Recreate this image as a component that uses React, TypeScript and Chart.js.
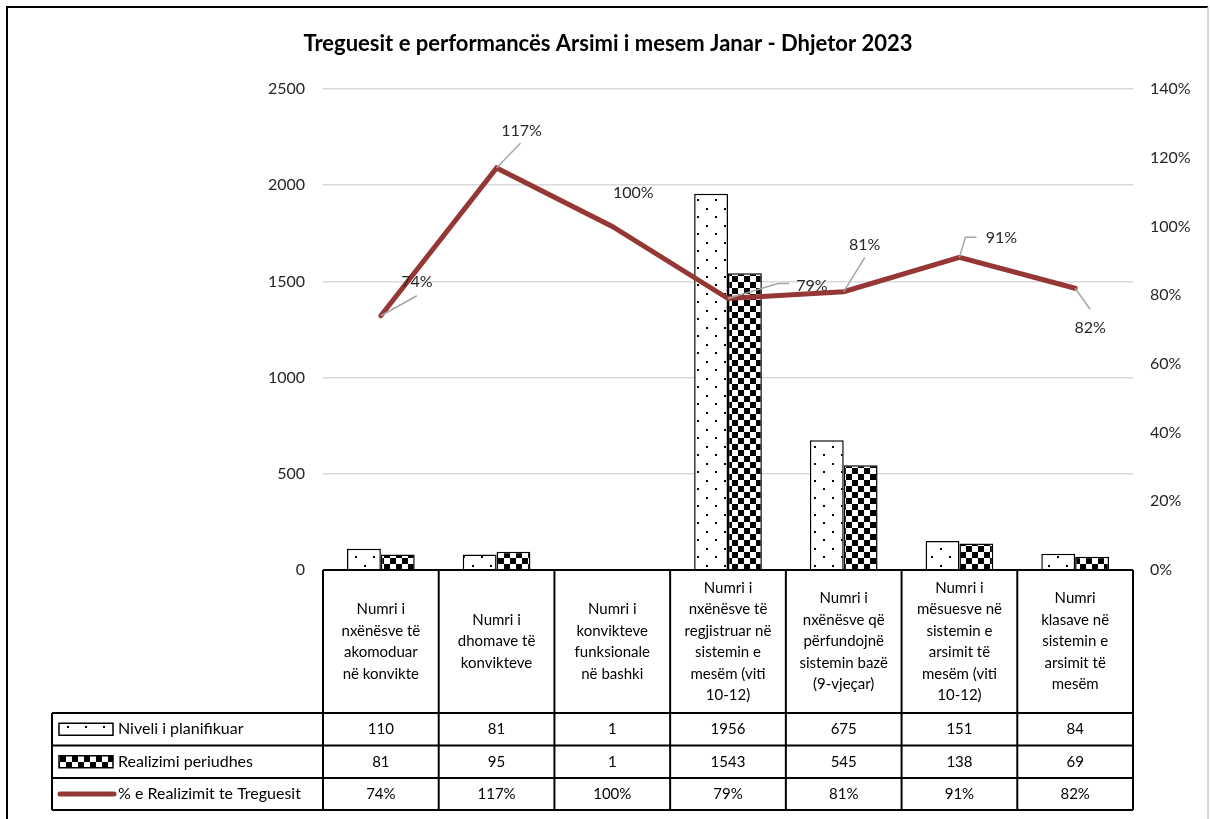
import React, { useEffect, useRef } from "react";
import { Chart, registerables } from "chart.js";

Chart.register(...registerables);

// ---------- DATA ----------
const chartTitle = "Treguesit e performancës Arsimi i mesem Janar - Dhjetor 2023";
const categories: string[][] = [
  ["Numri i", "nxënësve të", "akomoduar", "në konvikte"],
  ["Numri i", "dhomave të", "konvikteve"],
  ["Numri i", "konvikteve", "funksionale", "në bashki"],
  ["Numri i", "nxënësve të", "regjistruar në", "sistemin e", "mesëm (viti", "10-12)"],
  ["Numri i", "nxënësve që", "përfundojnë", "sistemin bazë", "(9-vjeçar)"],
  ["Numri i", "mësuesve në", "sistemin e", "arsimit të", "mesëm (viti", "10-12)"],
  ["Numri", "klasave në", "sistemin e", "arsimit të", "mesëm"],
];
const plannedName = "Niveli i planifikuar";
const realizedName = "Realizimi periudhes";
const pctName = "% e Realizimit te Treguesit";
const planned = [110, 81, 1, 1956, 675, 151, 84];
const realized = [81, 95, 1, 1543, 545, 138, 69];
const pctValues = [0.74, 1.17, 1.0, 0.79, 0.81, 0.91, 0.82];
const leftTicksMax = 2500;
const leftTicksStep = 500;
const rightTicksMax = 1.4;
const rightTicksStep = 0.2;

// ---------- STYLE ----------
const FONT = "Lato, 'Noto Sans', sans-serif";
const LINE_COLOR = "#953735";
const GRID_COLOR = "#d9d9d9";
const LEADER_COLOR = "#a6a6a6";
// label text centre offsets from point (dx, dy) and leader line paths
const labelOffsets = [
  [36, -34], [25, -37], [21, -34], [84, -13], [21, -47], [42, -20], [15, 40],
];
const leaderPaths: (number[][] | null)[] = [
  [[0, 0], [36, -20]],
  [[0, 0], [24, -25]],
  null,
  [[0, 0], [50, -15], [61, -15]],
  [[0, 0], [21, -34]],
  [[0, 0], [6, -20], [17, -20]],
  [[0, 0], [15, 21]],
];
const TABLE_LEFT = 52;
const HEADER_BOTTOM = 713;
const ROW_LINES = [713, 745.5, 778, 810];

function pctText(v: number) {
  return Math.round(v * 100) + "%";
}

function makeDotPattern(ctx: CanvasRenderingContext2D) {
  const c = document.createElement("canvas");
  c.width = 18;
  c.height = 17;
  const g = c.getContext("2d")!;
  g.fillStyle = "#ffffff";
  g.fillRect(0, 0, 18, 17);
  g.fillStyle = "#000000";
  g.fillRect(4, 4, 2, 2);
  g.fillRect(13, 12, 2, 2);
  return ctx.createPattern(c, "repeat")!;
}

function makeCheckerPattern(ctx: CanvasRenderingContext2D) {
  const c = document.createElement("canvas");
  c.width = 12;
  c.height = 12;
  const g = c.getContext("2d")!;
  g.fillStyle = "#ffffff";
  g.fillRect(0, 0, 12, 12);
  g.fillStyle = "#000000";
  g.fillRect(0, 0, 6, 6);
  g.fillRect(6, 6, 6, 6);
  return ctx.createPattern(c, "repeat")!;
}

export default function App() {
  const ref = useRef<HTMLCanvasElement | null>(null);

  useEffect(() => {
    const canvas = ref.current!;
    const ctx0 = canvas.getContext("2d")!;
    const dotPat = makeDotPattern(ctx0);
    const checkPat = makeCheckerPattern(ctx0);

    const overlay = {
      id: "overlay",
      afterDatasetsDraw(chart: any) {
        const ctx: CanvasRenderingContext2D = chart.ctx;
        const area = chart.chartArea;
        // axis line
        ctx.save();
        ctx.strokeStyle = "#000";
        ctx.lineWidth = 2;
        ctx.beginPath();
        ctx.moveTo(area.left, area.bottom);
        ctx.lineTo(area.right, area.bottom);
        ctx.stroke();

        // data labels for the line dataset
        const meta = chart.getDatasetMeta(0);
        ctx.font = `16px ${FONT}`;
        ctx.fillStyle = "#262626";
        ctx.textAlign = "center";
        ctx.textBaseline = "middle";
        meta.data.forEach((pt: any, i: number) => {
          const path = leaderPaths[i];
          if (path) {
            ctx.strokeStyle = LEADER_COLOR;
            ctx.lineWidth = 1.5;
            ctx.beginPath();
            path.forEach((p, k) => {
              if (k === 0) ctx.moveTo(pt.x + p[0], pt.y + p[1]);
              else ctx.lineTo(pt.x + p[0], pt.y + p[1]);
            });
            ctx.stroke();
          }
          ctx.fillText(pctText(pctValues[i]), pt.x + labelOffsets[i][0], pt.y + labelOffsets[i][1]);
        });
        ctx.restore();
      },
      afterDraw(chart: any) {
        const ctx: CanvasRenderingContext2D = chart.ctx;
        const area = chart.chartArea;
        const xs = chart.scales.x;
        const n = categories.length;
        const colW = (area.right - area.left) / n;
        const edges: number[] = [];
        for (let i = 0; i <= n; i++) edges.push(xs.getPixelForValue(0) - colW / 2 + i * colW);

        ctx.save();
        // frame
        ctx.strokeStyle = "#000";
        ctx.lineWidth = 2;
        ctx.beginPath();
        ctx.moveTo(7, 819);
        ctx.lineTo(7, 7);
        ctx.lineTo(1208, 7);
        ctx.stroke();
        ctx.strokeStyle = "#c8c8c8";
        ctx.lineWidth = 1.5;
        ctx.beginPath();
        ctx.moveTo(1208, 7);
        ctx.lineTo(1208, 819);
        ctx.stroke();

        // title
        ctx.fillStyle = "#000";
        ctx.font = `bold 22px ${FONT}`;
        ctx.textAlign = "center";
        ctx.textBaseline = "middle";
        ctx.fillText(chartTitle, 608, 44);

        // table lines
        ctx.strokeStyle = "#000";
        ctx.lineWidth = 2;
        ctx.beginPath();
        edges.forEach((x) => {
          ctx.moveTo(x, area.bottom);
          ctx.lineTo(x, ROW_LINES[ROW_LINES.length - 1]);
        });
        ctx.moveTo(TABLE_LEFT, ROW_LINES[0]);
        ctx.lineTo(TABLE_LEFT, ROW_LINES[ROW_LINES.length - 1]);
        ROW_LINES.forEach((y) => {
          ctx.moveTo(TABLE_LEFT, y);
          ctx.lineTo(edges[n], y);
        });
        ctx.stroke();

        // category header text
        ctx.font = `15px ${FONT}`;
        ctx.fillStyle = "#000";
        const lh = 21.5;
        const midY = (area.bottom + HEADER_BOTTOM) / 2;
        categories.forEach((lines, i) => {
          const cx = xs.getPixelForValue(i);
          const y0 = midY - ((lines.length - 1) * lh) / 2;
          lines.forEach((t, k) => ctx.fillText(t, cx, y0 + k * lh));
        });

        // rows
        const rowsData = [
          planned.map(String),
          realized.map(String),
          pctValues.map(pctText),
        ];
        rowsData.forEach((vals, r) => {
          const cy = (ROW_LINES[r] + ROW_LINES[r + 1]) / 2;
          vals.forEach((v, i) => ctx.fillText(v, xs.getPixelForValue(i), cy));
        });

        // legend keys
        const names = [plannedName, realizedName, pctName];
        ctx.textAlign = "left";
        ctx.font = `16px ${FONT}`;
        names.forEach((nm, r) => {
          const cy = (ROW_LINES[r] + ROW_LINES[r + 1]) / 2;
          if (r < 2) {
            ctx.fillStyle = r === 0 ? dotPat : checkPat;
            ctx.fillRect(59, cy - 6, 54, 12);
            ctx.strokeStyle = "#000";
            ctx.lineWidth = 1.5;
            ctx.strokeRect(59, cy - 6, 54, 12);
          } else {
            ctx.strokeStyle = LINE_COLOR;
            ctx.lineWidth = 5;
            ctx.lineCap = "round";
            ctx.beginPath();
            ctx.moveTo(60, cy);
            ctx.lineTo(114, cy);
            ctx.stroke();
          }
          ctx.fillStyle = "#000";
          ctx.fillText(nm, 118, cy);
        });
        ctx.restore();
      },
    };

    const chart = new Chart(canvas, {
      type: "bar",
      data: {
        labels: categories.map((c) => c.join(" ")),
        datasets: [
          {
            type: "line",
            label: pctName,
            data: pctValues,
            yAxisID: "y1",
            borderColor: LINE_COLOR,
            backgroundColor: LINE_COLOR,
            borderWidth: 5,
            pointRadius: 0,
            borderCapStyle: "round",
            tension: 0,
            order: 0,
          } as any,
          {
            label: plannedName,
            data: planned,
            yAxisID: "y",
            backgroundColor: dotPat as any,
            borderColor: "#000",
            borderWidth: 1.5,
            barPercentage: 1,
            categoryPercentage: 0.585,
            order: 1,
          },
          {
            label: realizedName,
            data: realized,
            yAxisID: "y",
            backgroundColor: checkPat as any,
            borderColor: "#000",
            borderWidth: 1.5,
            barPercentage: 1,
            categoryPercentage: 0.585,
            order: 2,
          },
        ],
      },
      options: {
        animation: false,
        responsive: false,
        devicePixelRatio: 1,
        layout: { padding: { top: 89, bottom: 249, left: 0, right: 0 } },
        plugins: { legend: { display: false }, title: { display: false }, tooltip: { enabled: false } },
        scales: {
          x: { display: false, offset: true },
          y: {
            position: "left",
            min: 0,
            max: leftTicksMax,
            ticks: {
              stepSize: leftTicksStep,
              padding: 18,
              color: "#262626",
              font: { family: FONT, size: 16 },
              callback: (v: any) => String(v),
            },
            grid: { color: GRID_COLOR, lineWidth: 1.5, drawTicks: false },
            border: { display: false },
            afterFit: (s: any) => { s.width = 323; },
          },
          y1: {
            position: "right",
            min: 0,
            max: rightTicksMax,
            ticks: {
              stepSize: rightTicksStep,
              padding: 17,
              color: "#262626",
              font: { family: FONT, size: 16 },
              callback: (v: any) => Math.round(Number(v) * 100) + "%",
            },
            grid: { display: false, drawTicks: false },
            border: { display: false },
            afterFit: (s: any) => { s.width = 77; },
          },
        },
      },
      plugins: [overlay],
    });
    return () => chart.destroy();
  }, []);

  return (
    <div style={{ position: "fixed", left: 0, top: 0, width: 1210, height: 819, background: "#fff" }}>
      <canvas ref={ref} width={1210} height={819} style={{ display: "block" }} />
    </div>
  );
}
